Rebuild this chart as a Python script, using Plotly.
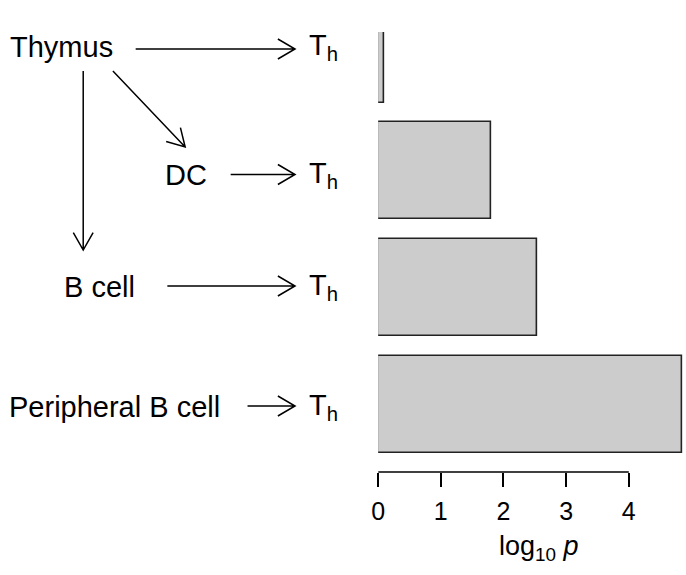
import math
import plotly.graph_objects as go

W, H = 686, 575
FONT = "Liberation Sans, Arial, Helvetica, sans-serif"

# data
sources = ["Thymus", "DC", "B cell", "Peripheral B cell"]
log10_p = [0.09, 1.80, 2.54, 4.85]
bar_slot = [3, 2, 1, 0]
x_ticks = [0, 1, 2, 3, 4]


# the diagram is laid out in figure pixels, converted to paper fractions
def px(x):
    return x / W


def py(y):
    return 1 - y / H


fig = go.Figure()
fig.add_trace(go.Bar(
    x=log10_p, y=bar_slot, orientation="h", width=0.83,
    marker=dict(color="#cccccc", line=dict(color="#222222", width=1.6)),
    hoverinfo="skip", showlegend=False,
))


def arrow(x0, y0, x1, y1, head=20, ang=30):
    a = math.atan2(y1 - y0, x1 - x0)
    pts = []
    for s in (1, -1):
        t = a + math.pi - s * math.radians(ang)
        pts.append((x1 + head * math.cos(t), y1 + head * math.sin(t)))
    path = (f"M{px(x0)},{py(y0)} L{px(x1)},{py(y1)} "
            f"M{px(pts[0][0])},{py(pts[0][1])} L{px(x1)},{py(y1)} "
            f"L{px(pts[1][0])},{py(pts[1][1])}")
    fig.add_shape(type="path", path=path, xref="paper", yref="paper",
                  line=dict(color="black", width=1.5))


def label(text, x, y, anchor="left", size=29):
    fig.add_annotation(text=text, x=px(x), y=py(y), xref="paper", yref="paper",
                       xanchor=anchor, yanchor="middle", showarrow=False,
                       font=dict(family=FONT, size=size, color="black"))


label_pos = {"Thymus": (1, 47), "DC": (158, 175), "B cell": (55.5, 287),
             "Peripheral B cell": (0, 407)}
for name in sources:
    x, y = label_pos[name]
    label(name, x, y)
    label("T<sub>h</sub>", 303, y)

arrow(130, 49, 291, 49)
arrow(107, 71, 180, 147)
arrow(77, 71, 77, 250)
arrow(226, 174.5, 291, 174.5)
arrow(162, 286, 291, 286)
arrow(243, 406, 291, 406)

# axis line only spanning the ticks (R style)
fig.add_shape(type="line", x0=0, x1=4, xref="x", y0=py(472), y1=py(472), yref="paper",
              line=dict(color="black", width=1.5))

label("log<sub>10</sub> <i>p</i>", 537, 548, anchor="center", size=27)

fig.update_layout(
    width=W, height=H,
    margin=dict(l=0, r=0, t=0, b=0),
    paper_bgcolor="white", plot_bgcolor="white",
    bargap=0,
    xaxis=dict(domain=[px(375), 1], range=[0, 311 / 63.3], tickvals=x_ticks,
               ticks="outside", ticklen=14, tickwidth=1.5, tickcolor="black",
               ticklabelstandoff=3,
               showgrid=False, zeroline=False, showline=False,
               tickfont=dict(family=FONT, size=25, color="black")),
    yaxis=dict(domain=[py(472), py(32)], range=[-0.578, 3.189], visible=False),
)

# drop the browser's default body margin so the figure sits at the window corner
fig.write_html("out.html", config={"displayModeBar": False},
               post_script="document.body.style.margin = '0';")
